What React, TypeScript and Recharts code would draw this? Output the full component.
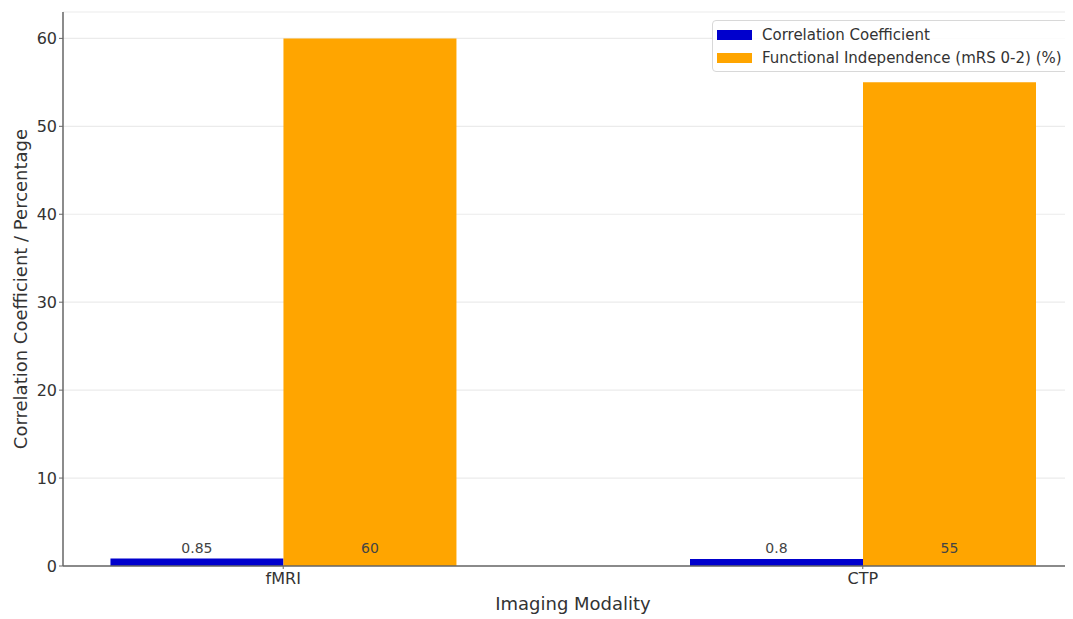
import React from 'react';
import { BarChart, Bar, XAxis, YAxis, CartesianGrid, Legend, LabelList } from 'recharts';

const categories = ['fMRI', 'CTP'];
const correlation = [0.85, 0.8];
const independence = [60, 55];
const yTicks = [0, 10, 20, 30, 40, 50, 60];
const seriesNames = ['Correlation Coefficient', 'Functional Independence (mRS 0-2) (%)'];
const seriesColors = ['#0000cd', '#ffa500'];

const data = categories.map((c, i) => ({ pos: i, name: c, corr: correlation[i], func: independence[i] }));

const FONT = '"DejaVu Sans", sans-serif';

const BarValueLabel = (props: any) => {
  const { x, y, width, height, value } = props;
  const bottom = y + height;
  return (
    <text x={x + width / 2} y={bottom - 18} textAnchor="middle" dominantBaseline="central"
      fontSize={14} fill="#444" fontFamily={FONT}>{value}</text>
  );
};

const LegendBox = () => (
  <div style={{
    border: '1px solid #d8d8d8', borderRadius: 4, background: 'rgba(255,255,255,0.85)',
    padding: '2px 4px', fontFamily: FONT, fontSize: 15, color: '#333', width: 348, boxSizing: 'content-box',
  }}>
    {seriesNames.map((n, i) => (
      <div key={n} style={{ display: 'flex', alignItems: 'center', height: 23, whiteSpace: 'nowrap' }}>
        <span style={{ display: 'inline-block', width: 35, height: 10, background: seriesColors[i], marginRight: 10, flexShrink: 0 }} />
        <span>{n}</span>
      </div>
    ))}
  </div>
);

const YLabel = (props: any) => {
  const vb = props.viewBox || {};
  const cx = 12;
  const cy = vb.y + vb.height / 2;
  return (
    <text x={cx} y={cy} transform={`rotate(-90, ${cx}, ${cy})`} textAnchor="middle" dominantBaseline="central"
      fontSize={18} fill="#333" fontFamily={FONT}>Correlation Coefficient / Percentage</text>
  );
};

export default function App() {
  return (
    <div style={{ width: 1065, height: 611, overflow: 'hidden', background: '#fff' }}>
      <BarChart width={1075} height={611} data={data} margin={{ top: 4, right: 0, bottom: 0, left: 0 }}
        barGap={0} style={{ fontFamily: FONT }}>
        <CartesianGrid horizontal vertical={false} stroke="#ebebeb" strokeWidth={1.2} />
        <XAxis dataKey="pos" type="number" domain={[-0.38, 1.38]} ticks={[0, 1]}
          tickFormatter={(v: number) => categories[v] ?? ''} height={53} tickSize={3} tickMargin={4}
          axisLine={{ stroke: '#666', strokeWidth: 1.5 }} tickLine={{ stroke: '#666' }}
          tick={{ fontSize: 16, fill: '#333', fontFamily: FONT }} allowDataOverflow
          label={{ value: 'Imaging Modality', position: 'insideBottom', offset: 9, fontSize: 18, fill: '#333', fontFamily: FONT }} />
        <YAxis type="number" domain={[0, 63]} ticks={yTicks} width={55} tickSize={4} tickMargin={2}
          axisLine={{ stroke: '#666', strokeWidth: 1.5 }} tickLine={{ stroke: '#666' }}
          tick={{ fontSize: 16, fill: '#333', fontFamily: FONT }} allowDataOverflow
          label={<YLabel />} />
        <Legend layout="vertical" align="center" verticalAlign="middle" content={<LegendBox />}
          wrapperStyle={{ top: 12, left: 704, width: 360 }} />
        <Bar dataKey="corr" name={seriesNames[0]} fill={seriesColors[0]} barSize={173} isAnimationActive={false}>
          <LabelList dataKey="corr" content={<BarValueLabel />} />
        </Bar>
        <Bar dataKey="func" name={seriesNames[1]} fill={seriesColors[1]} barSize={173} isAnimationActive={false}>
          <LabelList dataKey="func" content={<BarValueLabel />} />
        </Bar>
      </BarChart>
    </div>
  );
}
